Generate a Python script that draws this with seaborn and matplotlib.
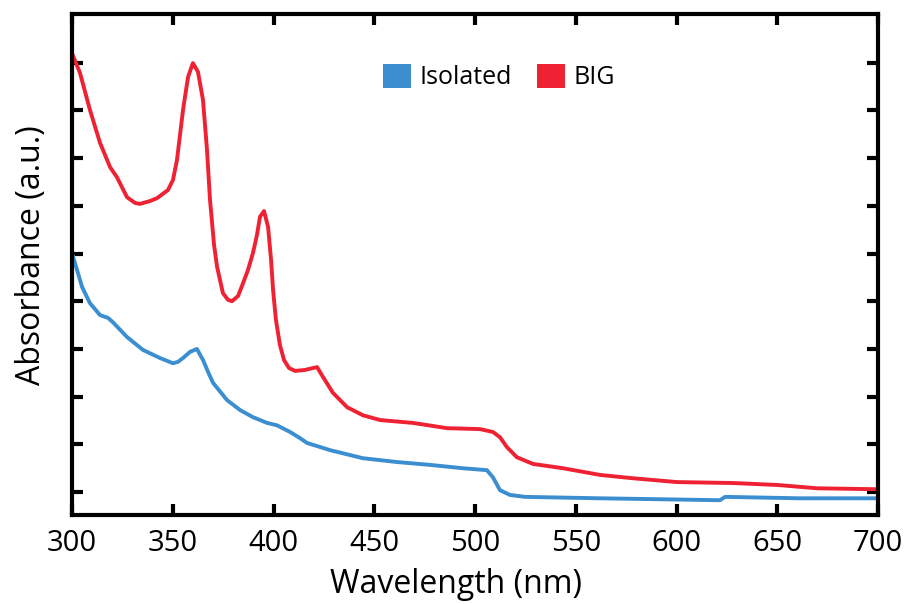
import numpy as np
import pandas as pd
import matplotlib
matplotlib.use("Agg")
import matplotlib.pyplot as plt
from matplotlib.patches import Patch
import seaborn as sns

# UV-vis absorption spectra (arbitrary units)
big_nm = [300.0, 304.0, 308.9, 313.9, 318.9, 322.3, 327.3, 331.3, 333.7, 338.7,
          342.2, 347.6, 350.1, 352.1, 355.1, 357.6, 360.0, 362.5, 365.0, 367.0,
          368.5, 370.5, 372.0, 374.9, 377.4, 379.4, 382.4, 384.9, 387.3, 389.8,
          391.8, 393.3, 395.3, 397.3, 398.8, 399.8, 401.2, 403.2, 405.2, 407.7,
          410.7, 415.6, 419.6, 421.6, 424.6, 429.5, 436.5, 444.4, 452.9, 469.2,
          486.1, 502.5, 508.9, 512.4, 515.9, 520.8, 528.8, 543.7, 562.0, 578.4,
          600.2, 628.0, 649.9, 669.7, 699.5]
big_abs = [0.920, 0.878, 0.801, 0.732, 0.681, 0.660, 0.618, 0.606, 0.604, 0.610,
           0.616, 0.633, 0.654, 0.696, 0.801, 0.870, 0.899, 0.881, 0.822, 0.717,
           0.612, 0.518, 0.472, 0.417, 0.403, 0.400, 0.411, 0.438, 0.465, 0.501,
           0.539, 0.577, 0.589, 0.556, 0.486, 0.423, 0.361, 0.308, 0.277, 0.260,
           0.254, 0.256, 0.260, 0.262, 0.241, 0.208, 0.178, 0.161, 0.151, 0.145,
           0.134, 0.132, 0.126, 0.115, 0.094, 0.073, 0.059, 0.050, 0.036, 0.029,
           0.021, 0.019, 0.015, 0.008, 0.006]

iso_nm = [300.0, 305.0, 308.9, 313.9, 317.9, 320.3, 327.3, 335.2, 343.7, 350.1,
          352.6, 355.1, 358.6, 362.0, 365.0, 367.5, 370.0, 376.9, 383.4, 389.8,
          396.8, 401.7, 408.2, 413.2, 416.6, 428.0, 444.4, 461.3, 477.7, 494.0,
          505.9, 508.9, 512.4, 517.4, 524.8, 562.0, 621.6, 624.1, 661.3, 699.5]
iso_abs = [0.501, 0.430, 0.396, 0.371, 0.365, 0.356, 0.325, 0.298, 0.281, 0.270,
           0.273, 0.281, 0.294, 0.300, 0.277, 0.252, 0.229, 0.193, 0.172, 0.157,
           0.145, 0.140, 0.126, 0.113, 0.103, 0.088, 0.071, 0.063, 0.057, 0.050,
           0.046, 0.031, 0.004, -0.006, -0.010, -0.013, -0.017, -0.010, -0.013, -0.013]

series_names = ["Isolated", "BIG"]
series_colors = ["#3b8ecf", "#ee2233"]
x_ticks = [300, 350, 400, 450, 500, 550, 600, 650, 700]

df = pd.concat([
    pd.DataFrame({"Wavelength": iso_nm, "Absorbance": iso_abs, "Sample": series_names[0]}),
    pd.DataFrame({"Wavelength": big_nm, "Absorbance": big_abs, "Sample": series_names[1]}),
], ignore_index=True)

sns.set_style("ticks")
plt.rcParams["font.family"] = ["Open Sans", "DejaVu Sans"]
plt.rcParams["text.color"] = "black"
plt.rcParams["axes.labelcolor"] = "black"

fig = plt.figure(figsize=(9.06, 6.04), dpi=100)
ax = fig.add_axes([72 / 906, 89 / 604, 806 / 906, 501 / 604])

sns.lineplot(data=df, x="Wavelength", y="Absorbance", hue="Sample",
             palette=dict(zip(series_names, series_colors)), linewidth=2.8,
             ax=ax, legend=False, sort=False, estimator=None)

ax.set_xlim(300, 700)
ax.set_ylim(-0.048, 1.002)
ax.set_xticks(x_ticks)
ax.set_xticklabels([str(t) for t in x_ticks])
ax.set_yticks(np.arange(0, 1.0, 0.1))
ax.set_yticklabels([])
ax.tick_params(direction="in", length=8, width=3, top=True, right=True,
               labelsize=21, pad=10, colors="black")
for s in ax.spines.values():
    s.set_linewidth(3)
    s.set_color("black")

ax.set_xlabel("Wavelength (nm)", fontsize=23)
ax.set_ylabel("Absorbance (a.u.)", fontsize=23)
ax.xaxis.set_label_coords(0.476, -0.106)
ax.yaxis.set_label_coords(-0.030, 0.519)

handles = [Patch(facecolor=c, edgecolor="none", label=n)
           for n, c in zip(series_names, series_colors)]
ax.legend(handles=handles, loc="center", bbox_to_anchor=(0.53, 0.874), ncol=2,
          frameon=False, fontsize=18, handlelength=1.1, handleheight=1.1,
          handletextpad=0.35, columnspacing=1.0)

fig.savefig("out.png", dpi=100)
